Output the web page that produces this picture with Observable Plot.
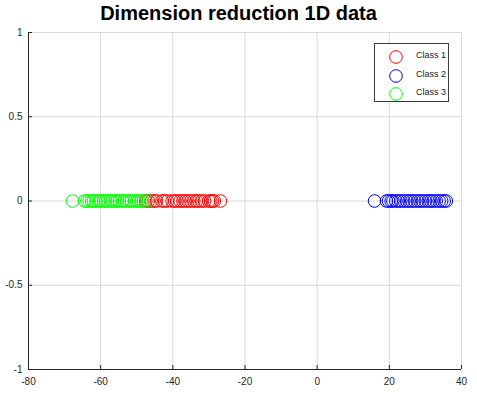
<!DOCTYPE html>
<html><head><meta charset="utf-8">
<script src="https://cdn.jsdelivr.net/npm/d3@7"></script>
<script src="https://cdn.jsdelivr.net/npm/@observablehq/plot@0.6"></script>
<style>
body{margin:0;background:#fff;font-family:"Liberation Sans",Arial,sans-serif;}
#wrap{position:relative;width:477px;height:396px;}
#title{position:absolute;left:0;top:2px;width:477px;text-align:center;font-weight:bold;font-size:20px;color:#000;}
#legend{position:absolute;left:374px;top:43px;width:75px;height:59px;border:1px solid #3a3a3a;background:#fff;box-sizing:border-box;font-size:9px;}
.item{position:absolute;left:0;height:16px;width:75px;}
.item svg{position:absolute;left:13px;top:1px;}
.item span{position:absolute;left:41px;top:2px;color:#1a1a1a;}
</style></head>
<body><div id="wrap"><div id="chart"></div><div id="title"></div><div id="legend"></div></div>
<script>
const titleText = "Dimension reduction 1D data";
const classNames = ["Class 1", "Class 2", "Class 3"];
const classColors = ["#ff0000", "#0000ff", "#00ff00"];
const class1 = [-47.5,-46.8,-46.0,-45.2,-44.5,-43.0,-42.3,-41.5,-40.2,-39.5,-38.8,-38.0,-37.2,-36.5,-35.8,-35.0,-34.2,-33.5,-32.8,-32.0,-31.2,-30.0,-29.5,-29.0,-28.5,-26.8];
const class2 = [15.9,19.2,19.8,20.5,21.0,21.8,22.5,23.2,24.0,24.8,25.5,26.2,27.0,27.8,28.5,29.2,30.0,30.8,31.5,32.2,33.0,33.8,34.5,35.2,35.8];
const class3 = [-67.8,-64.5,-63.8,-63.2,-62.5,-62.0,-61.3,-60.5,-60.0,-59.2,-58.6,-58.0,-57.3,-56.8,-56.0,-55.5,-54.8,-54.0,-53.5,-52.8,-52.0,-51.5,-50.7,-50.0,-49.5,-48.8,-48.2,-47.0];
const xTicks = [-80,-60,-40,-20,0,20,40];
const yTicks = [-1,-0.5,0,0.5,1];

const series = [class1, class2, class3];
const data = series.flatMap((arr, i) => arr.map(v => ({x: v, y: 0, c: classNames[i]})));

const chart = Plot.plot({
  width: 477, height: 396,
  marginLeft: 28, marginRight: 16, marginTop: 32, marginBottom: 27,
  style: {fontFamily: "Liberation Sans, Arial, sans-serif", fontSize: "10px", color: "#262626", background: "#fff"},
  x: {domain: [-80, 40], ticks: xTicks},
  y: {domain: [-1, 1], ticks: yTicks},
  color: {domain: classNames, range: classColors},
  marks: [
    Plot.gridX(xTicks, {stroke: "#d9d9d9", strokeOpacity: 1}),
    Plot.gridY(yTicks, {stroke: "#d9d9d9", strokeOpacity: 1}),
    Plot.axisX(xTicks, {tickSize: -4, tickPadding: 12, label: null, tickFormat: d => String(d)}),
    Plot.axisY(yTicks, {tickSize: -4, tickPadding: 10, label: null, tickFormat: d => String(d)}),
    Plot.ruleX([-80], {stroke: "#262626"}),
    Plot.ruleY([-1], {stroke: "#262626"}),
    Plot.dot(data, {x: "x", y: "y", stroke: "c", r: 6.3, fill: "none", strokeWidth: 1})
  ]
});
document.getElementById("chart").appendChild(chart);
document.getElementById("title").textContent = titleText;
const leg = document.getElementById("legend");
classNames.forEach((n, i) => {
  const d = document.createElement("div");
  d.className = "item";
  d.style.top = (4 + i * 18.5) + "px";
  d.innerHTML = `<svg width="16" height="16"><circle cx="8" cy="8" r="6.3" fill="none" stroke="${classColors[i]}"/></svg><span>${n}</span>`;
  leg.appendChild(d);
});
</script></body></html>
